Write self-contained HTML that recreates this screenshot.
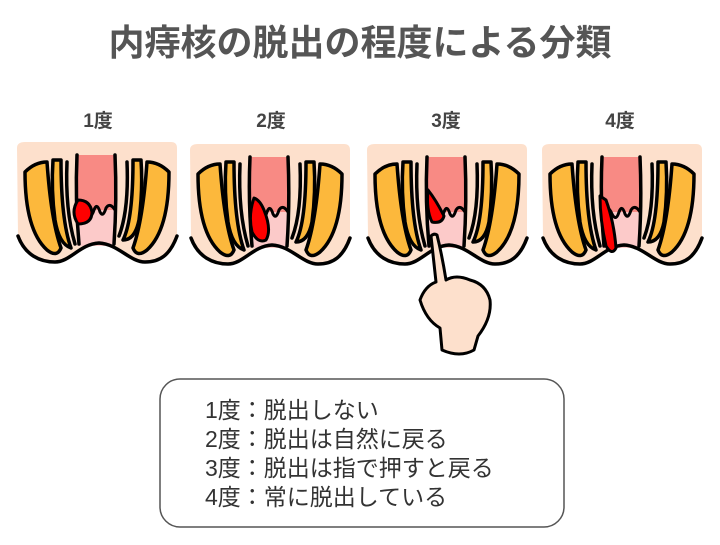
<!DOCTYPE html>
<html><head><meta charset="utf-8"><style>
body{margin:0;background:#fff;width:720px;height:540px;overflow:hidden;font-family:"Liberation Sans","Noto Sans CJK JP",sans-serif}
</style></head><body>
<svg width="720" height="540" viewBox="0 0 720 540" xmlns="http://www.w3.org/2000/svg" font-family="Liberation Sans, Noto Sans CJK JP, sans-serif">
<defs>
<g id="p" stroke-linecap="round" stroke-linejoin="round">
  <path d="M2,8 Q2,2 10,2 L156,2 Q162,2 162,8 L162,96 C155,115 145,122 130,122 C115,122 103,104 84,103 C65,104 55,122 40,122 C25,122 10,115 3,96 Z" fill="#fde0cc"/>
  <rect x="62" y="15" width="38" height="58" fill="#f88a84"/>
  <rect x="62" y="70" width="38" height="36" fill="#fccac9"/>
  <path d="M62,68 Q68,62 72,72 Q76,80 79,70 Q82,62 85,72 Q88,78 91,68 Q95,62 100,70" fill="none" stroke="#000" stroke-width="3"/>
  <path d="M62,15 Q60,60 64,104 M100,15 Q102,60 99,104" fill="none" stroke="#000" stroke-width="3.5"/>
  <path d="M10,32 Q20,22 32,22 Q36,80 46,108 Q42,118 32,110 Q10,90 10,32 Z" fill="#fcb83c" stroke="#000" stroke-width="3.5"/>
  <path d="M38,20 L46,20 Q46,80 56,108 Q44,104 40,80 Q36,50 38,20 Z" fill="#fcb83c" stroke="#000" stroke-width="3.5"/>
  <path d="M52,22 Q50,70 60,104" fill="none" stroke="#000" stroke-width="3.5"/>
  <path d="M154,32 Q144,22 132,22 Q128,80 118,108 Q122,118 132,110 Q154,90 154,32 Z" fill="#fcb83c" stroke="#000" stroke-width="3.5"/>
  <path d="M126,20 L118,20 Q118,80 108,100 Q120,100 124,80 Q128,50 126,20 Z" fill="#fcb83c" stroke="#000" stroke-width="3.5"/>
  <path d="M112,22 Q114,70 104,96" fill="none" stroke="#000" stroke-width="3.5"/>
  <path d="M3,96 C10,115 25,122 40,122 C55,122 65,104 84,103 C103,104 115,122 130,122 C145,122 155,115 162,96" fill="none" stroke="#000" stroke-width="3.5"/>
</g>
</defs>
<text x="360" y="55" text-anchor="middle" font-size="36" font-weight="bold" fill="#555">内痔核の脱出の程度による分類</text>
<g font-size="19" font-weight="bold" fill="#444" text-anchor="middle">
<text x="98" y="127">1度</text><text x="271" y="127">2度</text><text x="446" y="127">3度</text><text x="620" y="127">4度</text>
</g>
<use href="#p" x="15" y="140"/>
<use href="#p" x="188" y="142"/>
<use href="#p" x="365" y="142"/>
<use href="#p" x="540" y="142"/>
<g stroke="#000" stroke-width="3" fill="#f00" stroke-linejoin="round">
<path d="M78,200 Q70,212 78,224 Q92,224 92,212 Q90,200 78,200 Z"/>
<path d="M254,198 Q248,215 252,232 Q258,244 266,240 Q272,230 264,210 Q260,200 254,198 Z"/>
<path d="M428,190 Q426,210 432,222 Q442,224 444,216 Q436,200 428,190 Z"/>
<path d="M600,196 Q600,220 606,246 Q612,256 616,248 Q614,222 606,200 Z"/>
</g>
<path d="M437,235 Q434,233 431,236 L436,282 Q425,286 420,300 Q426,320 440,328 L442,350 Q460,358 474,350 L478,336 Q492,318 490,300 Q486,284 470,280 Q456,274 446,280 Q442,255 437,235 Z" fill="#fde0cc" stroke="#000" stroke-width="3" stroke-linejoin="round"/>
<rect x="160" y="379" width="404" height="148" rx="20" fill="#fff" stroke="#555" stroke-width="1.5"/>
<g font-size="23" fill="#333">
<text x="205" y="418">1度：脱出しない</text>
<text x="205" y="447">2度：脱出は自然に戻る</text>
<text x="205" y="476">3度：脱出は指で押すと戻る</text>
<text x="205" y="505">4度：常に脱出している</text>
</g>
</svg>
</body></html>
